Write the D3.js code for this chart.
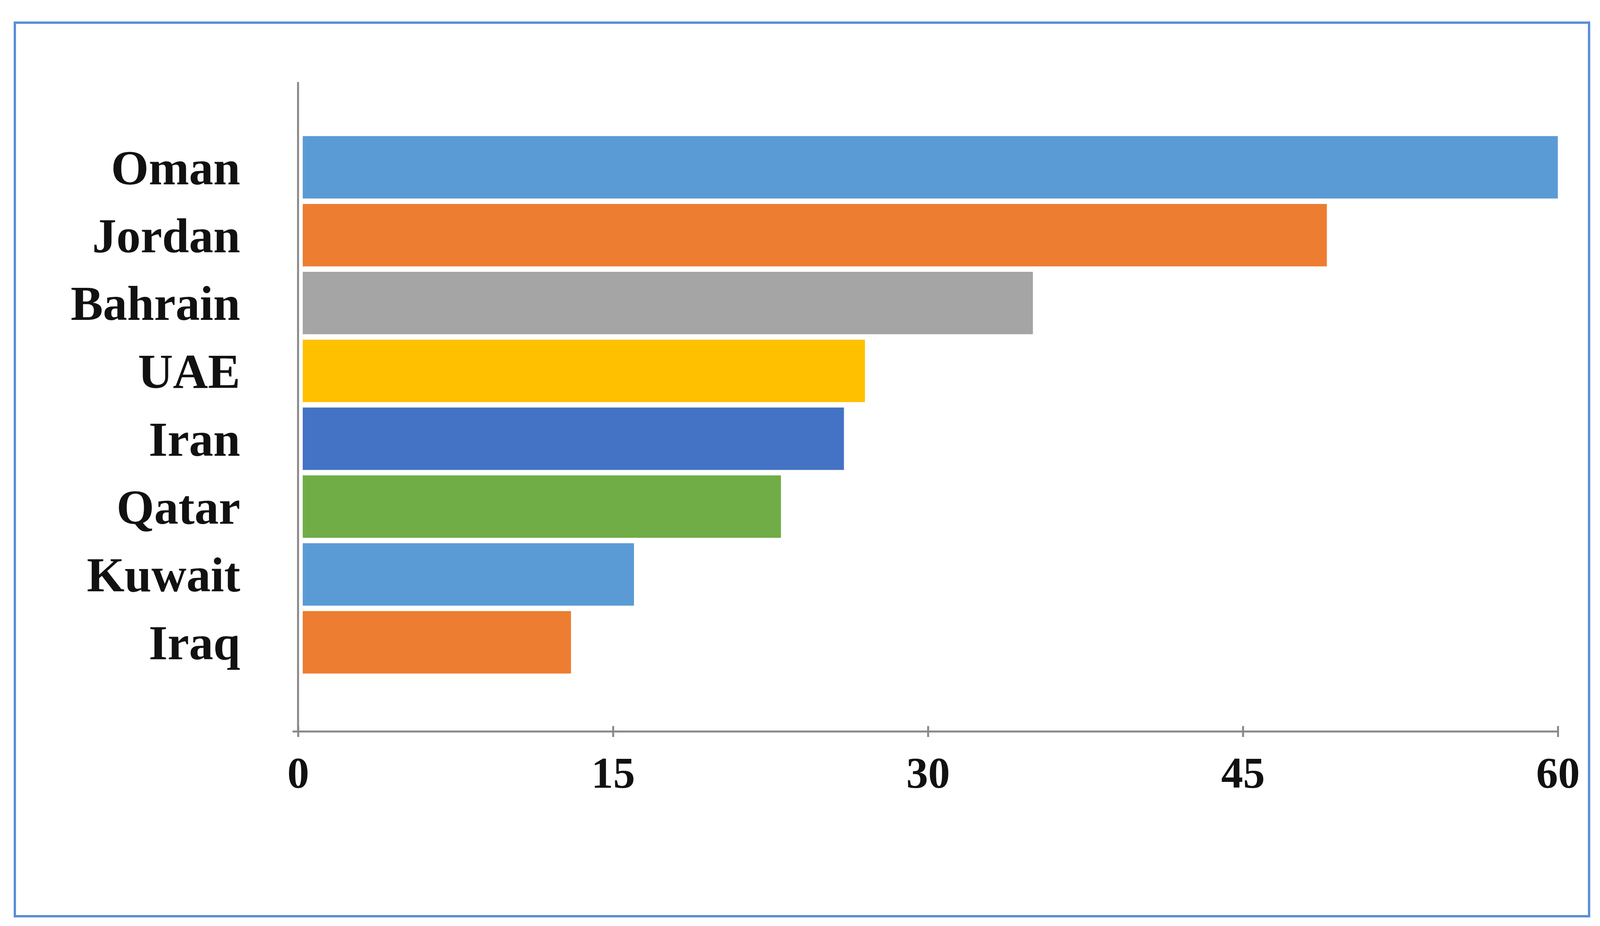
<!DOCTYPE html>
<html>
<head>
<meta charset="utf-8">
<script src="https://cdn.jsdelivr.net/npm/d3@7"></script>
<style>
  body { margin: 0; background: #fff; }
</style>
</head>
<body>
<svg id="chart" width="4104" height="2371"></svg>
<script>
const countries = ["Oman", "Jordan", "Bahrain", "UAE", "Iran", "Qatar", "Kuwait", "Iraq"];
const values = [60, 49, 35, 27, 26, 23, 16, 13];
const colors = ["#5b9bd5", "#ed7d31", "#a5a5a5", "#ffc000", "#4472c4", "#70ad47", "#5b9bd5", "#ed7d31"];
const ticks = [0, 15, 30, 45, 60];

const svg = d3.select("#chart");

// outer frame
svg.append("rect")
    .attr("x", 38).attr("y", 58)
    .attr("width", 4030).attr("height", 2288)
    .attr("fill", "#fff")
    .attr("stroke", "#5b8ed8")
    .attr("stroke-width", 6);

const x = d3.scaleLinear().domain([0, 60]).range([763, 3988]);
const y = d3.scaleBand().domain(countries).range([345, 1728]).paddingInner(0.08).paddingOuter(0.02);

// bars
svg.selectAll(".bar")
    .data(countries)
    .join("rect")
    .attr("class", "bar")
    .attr("x", x(0) + 12)
    .attr("y", d => y(d))
    .attr("width", (d, i) => x(values[i]) - x(0) - 12)
    .attr("height", y.bandwidth())
    .attr("fill", (d, i) => colors[i]);

// axes lines
svg.append("line")
    .attr("x1", x(0)).attr("x2", x(0))
    .attr("y1", 210).attr("y2", 1873)
    .attr("stroke", "#888").attr("stroke-width", 5);

const xAxis = svg.append("g")
    .attr("transform", "translate(0,1873)")
    .call(d3.axisBottom(x).tickValues(ticks).tickSize(14).tickPadding(50));
xAxis.select(".domain").attr("stroke", "#888").attr("stroke-width", 5)
    .attr("d", `M${x(0) - 14},0H${x(60)}`);
xAxis.selectAll(".tick line").attr("stroke", "#888").attr("stroke-width", 5).attr("y1", -14).attr("y2", 14);
xAxis.selectAll("text")
    .attr("font-family", "Liberation Serif, serif")
    .attr("font-weight", "bold")
    .attr("font-size", 112)
    .attr("fill", "#111");

// category labels
svg.selectAll(".label")
    .data(countries)
    .join("text")
    .attr("x", 615)
    .attr("y", d => y(d) + y.bandwidth() / 2)
    .attr("dy", "0.35em")
    .attr("text-anchor", "end")
    .attr("font-family", "Liberation Serif, serif")
    .attr("font-weight", "bold")
    .attr("font-size", 124)
    .attr("fill", "#111")
    .text(d => d);
</script>
</body>
</html>
